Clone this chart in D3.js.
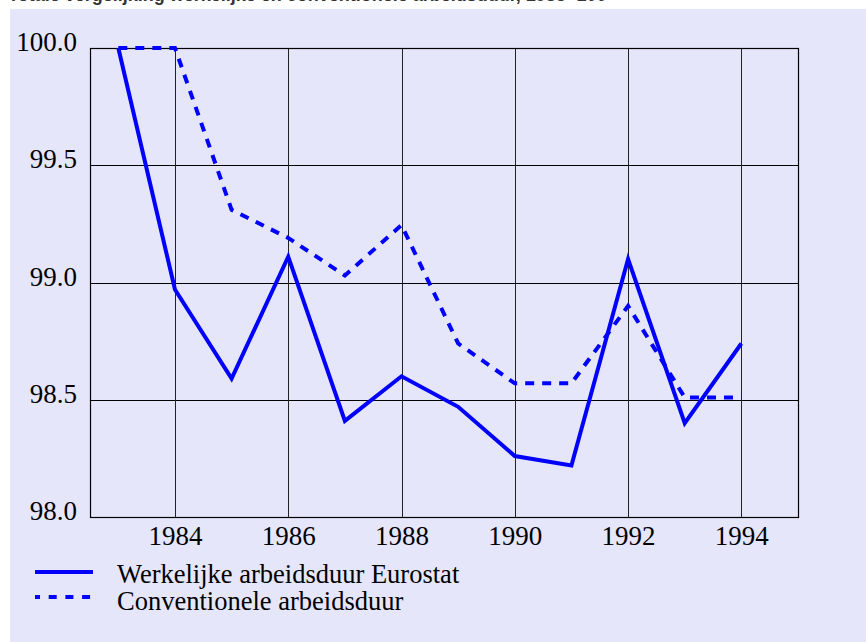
<!DOCTYPE html>
<html>
<head>
<meta charset="utf-8">
<script src="https://cdn.jsdelivr.net/npm/d3@7"></script>
<style>
  html, body { margin: 0; padding: 0; background: #fff; }
  svg { display: block; }
</style>
</head>
<body>
<div id="chart"></div>
<script>
// jaren en indexcijfers (1983 = 100)
const years = [1983, 1984, 1985, 1986, 1987, 1988, 1989, 1990, 1991, 1992, 1993, 1994];
const werkelijk = [100.0, 98.97, 98.59, 99.11, 98.41, 98.60, 98.47, 98.26, 98.22, 99.10, 98.40, 98.74];
const conventioneel = [100.0, 100.0, 99.31, 99.19, 99.03, 99.245, 98.74, 98.57, 98.57, 98.90, 98.51, 98.51];
const xTicks = [1984, 1986, 1988, 1990, 1992, 1994];
const yTicks = [98.0, 98.5, 99.0, 99.5, 100.0];
const seriesNames = ['Werkelijke arbeidsduur Eurostat', 'Conventionele arbeidsduur'];
const titleText = 'Totale vergelijking werkelijke en conventionele arbeidsduur, 1983=100';

const W = 866, H = 642;
const margin = { left: 90, right: 68, top: 48, bottom: 125 };
const blue = '#0000ff';
const serif = '"Liberation Serif", "DejaVu Serif", serif';

const svg = d3.select('#chart').append('svg')
    .attr('width', W)
    .attr('height', H);

// achtergrondpaneel
svg.append('rect')
    .attr('x', 10).attr('y', 9)
    .attr('width', W - 10).attr('height', H - 9)
    .attr('fill', '#e6e6fa');

// titel (grotendeels buiten beeld)
svg.append('text')
    .attr('x', 8).attr('y', 0.5)
    .style('font-family', '"Liberation Sans", Arial, sans-serif')
    .style('font-weight', 'bold')
    .style('font-size', '18px')
    .attr('fill', '#333')
    .text(titleText);

const x = d3.scaleLinear().domain([1982.5, 1995]).range([margin.left, W - margin.right]);
const y = d3.scaleLinear().domain([98.0, 100.0]).range([H - margin.bottom, margin.top]);

const g = svg.append('g');

// rasterlijnen
g.selectAll('.hgrid').data(yTicks).join('line')
    .attr('class', 'hgrid')
    .attr('x1', margin.left).attr('x2', W - margin.right)
    .attr('y1', d => Math.round(y(d)) + 0.5).attr('y2', d => Math.round(y(d)) + 0.5)
    .attr('stroke', '#000').attr('stroke-width', 1);

g.selectAll('.vgrid').data(xTicks).join('line')
    .attr('class', 'vgrid')
    .attr('x1', d => Math.round(x(d)) + 0.5).attr('x2', d => Math.round(x(d)) + 0.5)
    .attr('y1', margin.top).attr('y2', H - margin.bottom)
    .attr('stroke', '#222').attr('stroke-width', 1);

// kader
g.append('rect')
    .attr('x', margin.left + 0.5).attr('y', margin.top + 0.5)
    .attr('width', W - margin.left - margin.right)
    .attr('height', H - margin.top - margin.bottom)
    .attr('fill', 'none').attr('stroke', '#000').attr('stroke-width', 1.2);

// as-labels
const yAxis = d3.axisLeft(y).tickValues(yTicks).tickFormat(d3.format('.1f')).tickSize(0).tickPadding(13);
const yg = svg.append('g').attr('transform', `translate(${margin.left},0)`).call(yAxis);
yg.select('.domain').remove();
yg.selectAll('text')
    .attr('dy', '0.1em')
    .style('font-family', serif).style('font-size', '27px').attr('fill', '#000');

const xAxis = d3.axisBottom(x).tickValues(xTicks).tickFormat(d3.format('d')).tickSize(0).tickPadding(9);
const xg = svg.append('g').attr('transform', `translate(0,${H - margin.bottom})`).call(xAxis);
xg.select('.domain').remove();
xg.selectAll('text')
    .style('font-family', serif).style('font-size', '27px').attr('fill', '#000');

// lijnen
const line = d3.line().x(d => x(d[0])).y(d => y(d[1]));

g.append('path')
    .datum(d3.zip(years, conventioneel))
    .attr('d', line)
    .attr('fill', 'none').attr('stroke', blue)
    .attr('stroke-width', 4)
    .attr('stroke-dasharray', '9,8');

g.append('path')
    .datum(d3.zip(years, werkelijk))
    .attr('d', line)
    .attr('fill', 'none').attr('stroke', blue)
    .attr('stroke-width', 4)
    .attr('stroke-linejoin', 'miter');

// legenda
const legend = svg.append('g');
const legendRows = [
    { name: seriesNames[0], dash: null, y: 572, ty: 583 },
    { name: seriesNames[1], dash: '8,8.7', y: 597, ty: 610 }
];
legendRows.forEach(r => {
    legend.append('line')
        .attr('x1', 35).attr('x2', 93)
        .attr('y1', r.y).attr('y2', r.y)
        .attr('stroke', blue).attr('stroke-width', 4)
        .attr('stroke-dasharray', r.dash)
        .attr('stroke-dashoffset', r.dash ? 3 : null);
    legend.append('text')
        .attr('x', 117).attr('y', r.ty)
        .style('font-family', serif).style('font-size', '26.5px')
        .text(r.name);
});
</script>
</body>
</html>
